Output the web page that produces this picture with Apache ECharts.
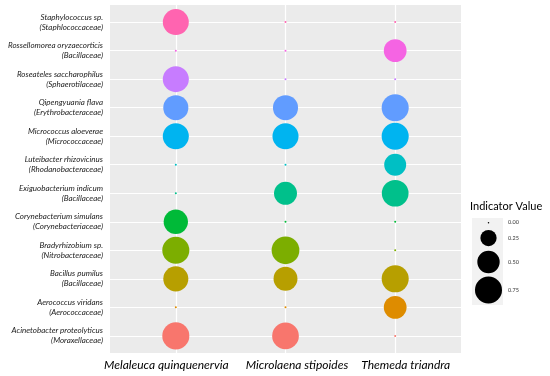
<!DOCTYPE html>
<html>
<head>
<meta charset="utf-8">
<script src="https://cdn.jsdelivr.net/npm/echarts@6/dist/echarts.min.js"></script>
<style>html,body{margin:0;padding:0;background:#fff}#c{width:550px;height:376px}</style>
</head>
<body>
<div id="c"></div>
<script>
const sites = ['Melaleuca quinquenervia', 'Microlaena stipoides', 'Themeda triandra'];
const species = ['Acinetobacter proteolyticus', 'Aerococcus viridans', 'Bacillus pumilus', 'Bradyrhizobium sp.',
  'Corynebacterium simulans', 'Exiguobacterium indicum', 'Luteibacter rhizovicinus', 'Micrococcus aloeverae',
  'Qipengyuania flava', 'Roseateles saccharophilus', 'Rossellomorea oryzaecorticis', 'Staphylococcus sp.'];
const families = ['Moraxellaceae', 'Aerococcaceae', 'Bacillaceae', 'Nitrobacteraceae', 'Corynebacteriaceae',
  'Bacillaceae', 'Rhodanobacteraceae', 'Micrococcaceae', 'Erythrobacteraceae', 'Sphaerotilaceae', 'Bacillaceae',
  'Staphlococcaceae'];
const melaleuca = [0.75, 0, 0.64, 0.75, 0.60, 0, 0, 0.69, 0.64, 0.69, 0, 0.69];
const microlaena = [0.73, 0, 0.58, 0.79, 0, 0.53, 0, 0.69, 0.64, 0, 0, 0];
const themeda = [0, 0.52, 0.75, 0, 0, 0.73, 0.48, 0.75, 0.75, 0, 0.52, 0];
const legendValues = [0, 0.25, 0.5, 0.75];
const legendLabels = ['0.00', '0.25', '0.50', '0.75'];
const colors = ['#F8766D', '#DE8C00', '#B79F00', '#7CAE00', '#00BA38', '#00C08B', '#00BFC4', '#00B4F0',
  '#619CFF', '#C77CFF', '#F564E3', '#FF64B0'];

function sizeOf(v) { return 1.5 + 29.5 * Math.sqrt(v); }

const siteValues = [melaleuca, microlaena, themeda];
const points = [];
siteValues.forEach((arr, si) => arr.forEach((v, yi) => points.push([si, yi, v])));

const FONT = 'Lato';
const chart = echarts.init(document.getElementById('c'), null, {renderer: 'canvas'});

const legendTop = 218, legendCenters = [222.7, 238, 262, 290];
const graphics = [
  {type: 'text', left: 470, top: 201, style: {text: 'Indicator Value', font: '11px ' + FONT, fill: '#000'}},
  {type: 'rect', shape: {x: 472, y: legendTop, width: 31, height: 87}, style: {fill: '#F2F2F2'}}
];
legendValues.forEach((v, i) => {
  graphics.push({type: 'circle', shape: {cx: 488.5, cy: legendCenters[i], r: sizeOf(v) / 2}, style: {fill: '#000'}});
  graphics.push({type: 'text', x: 508, y: legendCenters[i], style: {text: legendLabels[i], font: '5.5px ' + FONT, fill: '#333', verticalAlign: 'middle'}});
});

const labelStyle = {fontFamily: FONT, fontStyle: 'italic', fontSize: 12, color: '#000'};
const unit = 351 / 3.2;
chart.setOption({
  animation: false,
  backgroundColor: '#fff',
  grid: [
    {left: 110, top: 5, right: 89, bottom: 23, show: true, backgroundColor: '#EBEBEB', borderWidth: 0},
    {left: 110 + 0.1 * unit, top: 5, right: 89 + 0.1 * unit, bottom: 23, show: false}
  ],
  xAxis: [{
    type: 'value', min: -0.6, max: 2.6,
    axisLine: {show: false},
    axisTick: {show: true, length: 3, lineStyle: {color: '#777'}, customValues: [0, 1, 2]},
    splitLine: {show: false},
    axisLabel: {show: false}
  }, {
    gridIndex: 1, type: 'category', data: sites, boundaryGap: true,
    axisLine: {show: false}, axisTick: {show: false}, splitLine: {show: false},
    axisLabel: {
      interval: 0, margin: 6,
      formatter: (v, i) => '{s' + i + '|' + v + '}',
      rich: {
        s0: Object.assign({padding: [0, 19, 0, 0]}, labelStyle),
        s1: Object.assign({padding: [0, 0, 0, 23]}, labelStyle),
        s2: Object.assign({padding: [0, 0, 0, 21]}, labelStyle)
      }
    }
  }],
  yAxis: [{
    type: 'value', min: -0.6, max: 11.6,
    axisLine: {show: false},
    axisTick: {show: true, length: 3, lineStyle: {color: '#777'}, customValues: species.map((s, i) => i)},
    splitLine: {show: false},
    axisLabel: {
      customValues: species.map((s, i) => i), margin: 7, hideOverlap: false,
      formatter: v => { const i = Math.round(v); return species[i] + '\n(' + families[i] + ')'; },
      fontFamily: FONT, fontStyle: 'italic', fontSize: 8, lineHeight: 10, color: '#1a1a1a', align: 'right'
    }
  }, {
    gridIndex: 1, type: 'value', show: false
  }],
  series: [
    {
      type: 'scatter', silent: true, data: [], z: 1,
      markLine: {
        silent: true, symbol: 'none', label: {show: false}, z: 1,
        lineStyle: {color: '#fff', width: 1.2, type: 'solid'},
        data: sites.map((s, i) => ({xAxis: i})).concat(species.map((s, i) => ({yAxis: i})))
      }
    },
    {
      type: 'scatter', silent: true, z: 3,
      data: points,
      symbolSize: d => Math.max(sizeOf(d[2]), 2),
      itemStyle: {opacity: 1, color: p => colors[p.data[1]]}
    }
  ],
  graphic: graphics
});
</script>
</body>
</html>
